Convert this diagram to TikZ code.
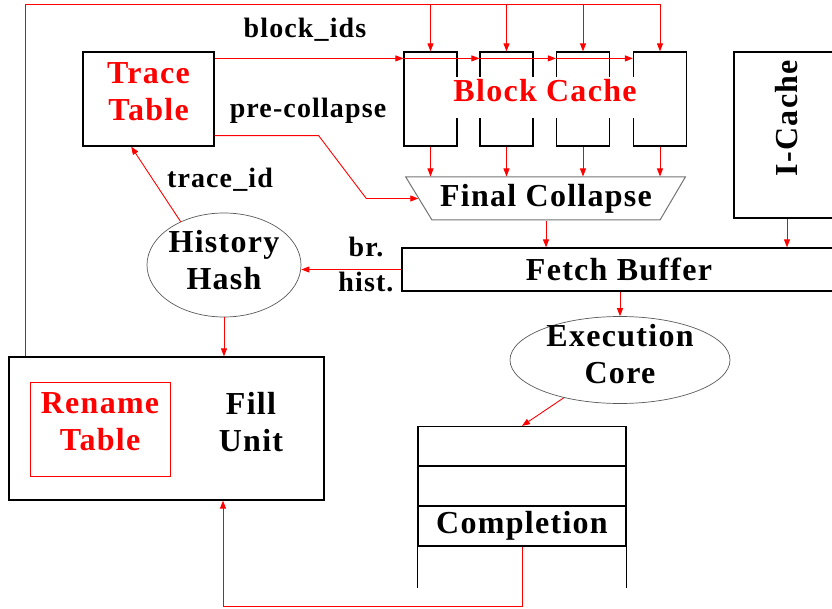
\documentclass[tikz,border=0pt]{standalone}
\usepackage{fontspec}
\setmainfont{Liberation Serif}[LetterSpace=4]
\usetikzlibrary{shapes.geometric,arrows.meta}

\tikzset{
  box/.style={draw, line width=1.2pt, inner sep=0pt},
  wall/.style={line width=1.2pt},
  col/.style={box, minimum width=53pt, minimum height=94pt},
  blob/.style={draw=black!65, ellipse, line width=0.7pt, inner sep=0pt},
  sig/.style={red, line width=0.9pt},
  arr/.style={sig, -{Triangle[length=8pt,width=6pt]}},
  big/.style={font=\fontsize{32}{37}\selectfont\bfseries, align=center},
  lab/.style={font=\fontsize{28}{31}\selectfont\bfseries, align=center},
}

\begin{document}
\begin{tikzpicture}[x=1pt,y=-1pt]
\useasboundingbox (0,0) rectangle (832,609);
% trace table and block cache
\node[box, minimum width=131pt, minimum height=94pt] (tt) at (148.5,99) {};
\node[big, red] (ttl) at (148.5,92) {Trace\\Table};
\node[col] (bc1) at (430.5,99) {};
\node[col] (bc2) at (506.5,99) {};
\node[col] (bc3) at (583,99) {};
\node[col] (bc4) at (660,99) {};
\node[big, red, fill=white, inner sep=0pt, inner xsep=3pt, text height=25pt, text depth=16pt] (bcl) at (545,97.5) {Block Cache};
\node[trapezium, shape border rotate=180, draw=black!55, line width=1pt, trapezium left angle=51, trapezium right angle=50, trapezium stretches=true, minimum width=280pt, minimum height=43pt, inner sep=0pt, big] (fc) at (546,198.5) {Final Collapse};
% i-cache and fetch buffer
\node[box, minimum width=106pt, minimum height=166pt] (ic) at (787,135) {};
\node[big, rotate=90] (icl) at (787,118) {I-Cache};
\node[box, minimum width=434pt, minimum height=43pt, big] (fb) at (619,269.5) {Fetch Buffer};
% history hash, execution core
\node[blob, minimum width=154pt, minimum height=104pt] (hh) at (224,265) {};
\node[big] (hhl) at (224,260) {History\\Hash};
\node[blob, minimum width=220pt, minimum height=87pt] (ec) at (620,360) {};
\node[big] (ecl) at (620,354) {Execution\\Core};
% completion
\node[box, minimum width=208pt, minimum height=40pt] (cp1) at (522,446.5) {};
\node[box, minimum width=208pt, minimum height=40pt] (cp2) at (522,486) {};
\node[box, minimum width=208pt, minimum height=40pt, big] (cp3) at (522,526) {Completion};
\draw[wall] (cp3.south west) -- ++(0,41);
\draw[wall] (cp3.south east) -- ++(0,41);
% fill unit
\node[box, minimum width=315pt, minimum height=143pt] (fu) at (166.5,428.5) {};
\node[draw=red, line width=1pt, minimum width=140pt, minimum height=94pt] (rt) at (100,429) {};
\node[big, red] (rtl) at (100,422) {Rename\\Table};
\node[big] (ful) at (251,422) {Fill\\Unit};
% labels
\node[lab] (bil) at (305,30) {block\_ids};
\node[lab] (pcl) at (308,111) {pre-collapse};
\node[lab] (til) at (220,180) {trace\_id};
\node[lab] (brl) at (366,247) {br.};
\node[lab] (hil) at (366,282) {hist.};
% connections
\draw[sig] ([xshift=17pt]fu.north west) |- (bc4.north |- 0,4);
\foreach \i in {1,...,4} {
  \draw[arr] (bc\i.north |- 0,4) -- (bc\i.north);
  \draw[arr] (bc\i.south) -- (bc\i.south |- fc.north);
}
\draw[arr] ([yshift=-7pt]tt.north east) -- ([yshift=-7pt]bc1.north west);
\foreach \a/\b in {1/2,2/3,3/4}
  \draw[arr] ([yshift=-7pt]bc\a.north west) -- ([yshift=-7pt]bc\b.north west);
\draw[arr] ([yshift=11pt]tt.south east) -- ++(104,0) -- ([xshift=-52pt]fc.west) -- (fc.west);
\draw[arr] (hh.135) -- (tt.250);
\draw[arr] (hh.south) -- (hh.south |- fu.north);
\draw[arr] (fb.west) -- (fb.west -| hh.east);
\draw[arr] (fc.south) -- (fc.south |- fb.north);
\draw[arr] (ic.south) -- (ic.south |- fb.north);
\draw[arr] (fb.south -| ec.north) -- (ec.north);
\draw[arr] (ec) -- (cp1.north);
\coordinate (ret) at (223,606);
\draw[arr] (cp3.south) |- (ret) -- (ret |- fu.south);
\end{tikzpicture}
\end{document}
